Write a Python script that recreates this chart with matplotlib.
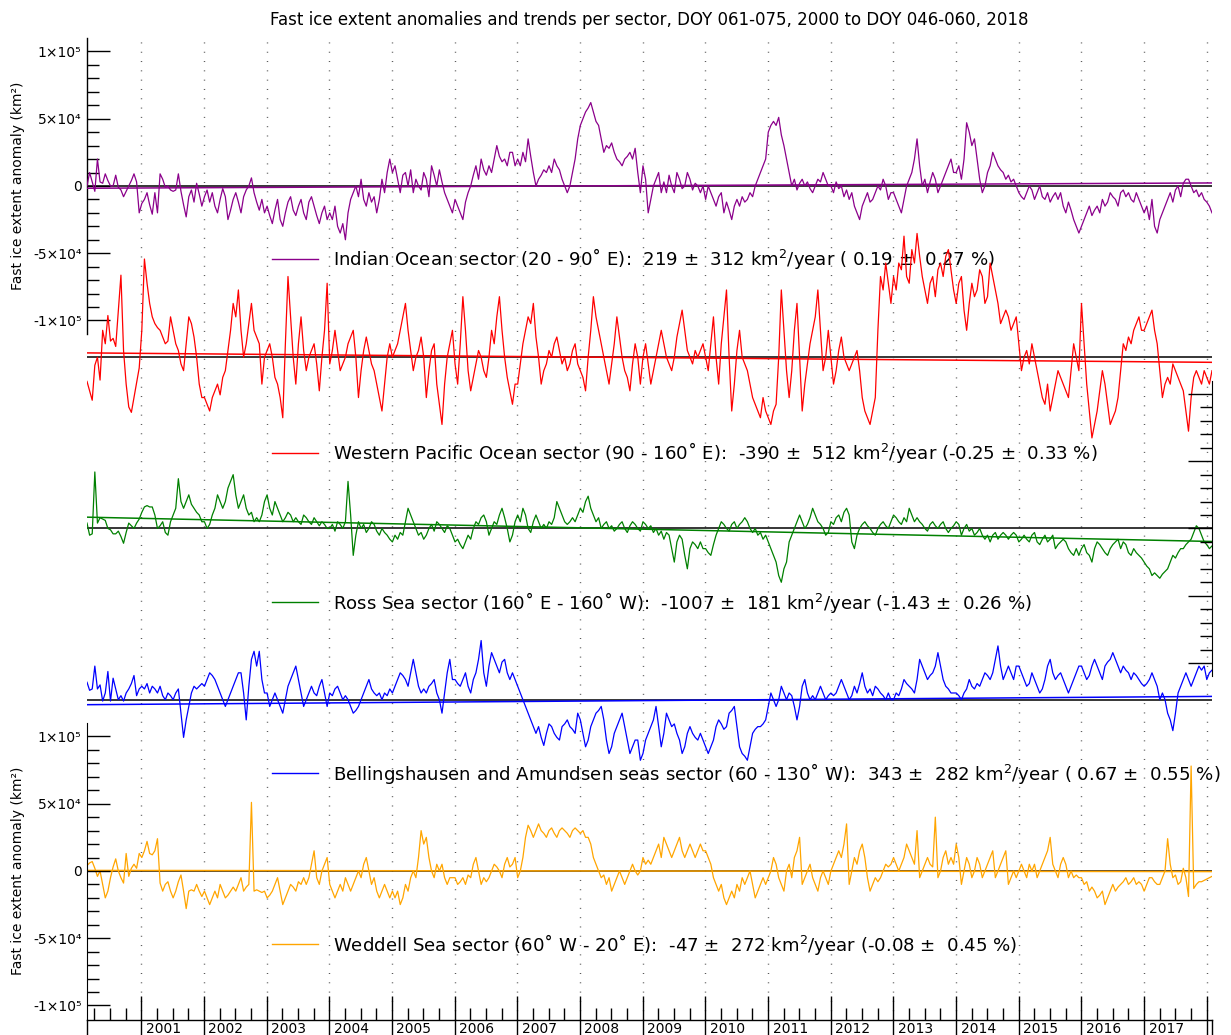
import numpy as np
import matplotlib
matplotlib.use("Agg")
import matplotlib.pyplot as plt
import matplotlib.transforms as mtransforms

# ---------------- data (anomalies in thousand km^2, 15-day periods) ----------------
# first list: 2000 (DOY 061 onwards, 21 periods), then 2001..2017 (24 each), then 2018 (3)
indian = [
    [0, 10, 3, -4, 20, 3, 2, 9, 4, 0, 0, 8, -1, -3, -8, -4, 0, 4, 9, 3, -20],
    [-13, -10, -5, -14, -21, -5, -20, 9, 5, -1, 0, -3, -4, -3, 9, -4, -14, -23, -8, -3, -12, 2, -6, -15],
    [-8, -3, -12, -5, -15, -20, -10, -2, -8, -25, -18, -10, -5, -12, -20, -8, -3, 0, 6, -5, -12, -18, -10, -20],
    [-15, -22, -28, -18, -10, -25, -30, -20, -12, -8, -18, -22, -15, -10, -20, -25, -12, -8, -15, -22, -28, -20, -15, -25],
    [-20, -25, -15, -30, -35, -28, -40, -20, -10, -5, 0, -8, 5, -10, -15, -5, -12, -8, -20, -10, 5, -5, 10, 20],
    [10, 15, 5, -5, 8, 10, 0, 12, -5, 5, 0, -3, 10, 5, -8, 15, 8, 0, 12, 3, -5, -10, -15, -20],
    [-10, -15, -20, -25, -12, -5, 0, 8, 15, 5, 20, 12, 8, 15, 10, 20, 30, 22, 18, 20, 15, 25, 25, 15],
    [20, 15, 25, 18, 35, 22, 10, 0, 5, 8, 12, 10, 15, 10, 20, 15, 12, 5, 0, -5, 0, 10, 20, 35],
    [45, 50, 55, 58, 62, 55, 48, 45, 35, 25, 30, 28, 32, 25, 20, 18, 15, 20, 22, 25, 20, 28, 10, -5],
    [15, 5, -20, -10, 0, 5, 10, -5, 3, -5, 8, 0, -5, 10, 5, -2, 0, 10, 5, -3, 2, 0, -5, 0],
    [-10, 0, -5, -10, -15, -8, -5, -20, -12, -18, -25, -15, -10, -15, -8, -12, -10, -5, -8, 0, 5, 10, 15, 20],
    [40, 45, 48, 45, 51, 38, 30, 20, 10, 0, 5, -3, 2, 5, 0, 3, -2, -5, 0, 5, 3, 10, 5, 0],
    [0, -5, 3, -2, 0, -8, -3, -10, -5, -15, -20, -25, -15, -10, -5, -12, -10, -5, 0, -3, 5, 0, -10, -5],
    [-5, -10, -15, -20, -10, 0, 5, 10, 20, 35, 15, 0, 5, -5, 3, 10, 5, -5, 0, 5, 10, 15, 20, 10],
    [10, 15, 5, 20, 47, 40, 30, 35, 20, 5, -5, 0, 10, 15, 25, 20, 15, 12, 10, 5, 8, 3, 5, 0],
    [-5, -8, -10, -5, 0, -3, -10, -5, 0, -8, -10, -5, -12, -8, -5, -10, -5, -15, -20, -12, -18, -25, -30, -35],
    [-30, -25, -20, -15, -22, -18, -15, -20, -10, -15, -12, -5, -8, -10, -15, -5, -3, -8, -5, -10, -12, -5, -10, -15],
    [-20, -15, -25, -10, -30, -35, -25, -20, -15, -10, -5, -12, -3, 0, -8, 2, 5, 5, 0, -5, -3, -8, -5, -10],
    [-12, -15, -20],
]
western_pacific = [
    [-18, -25, -32, -6, 0, -17, 20, 10, 31, 12, 14, 8, 35, 61, 5, -20, -37, -41, -30, -19, -8],
    [20, 73, 55, 40, 30, 25, 22, 20, 15, 10, 12, 30, 20, 10, 5, -5, -10, 10, 30, 25, 15, 0, -20, -30],
    [-30, -35, -40, -30, -25, -20, -28, -15, -10, 5, 20, 40, 30, 50, 20, 0, 10, 25, 40, 20, 15, 10, -20, 0],
    [5, 10, 0, -15, -20, -30, -45, 10, 60, 30, 0, -20, 10, 30, 5, -10, 0, 5, 10, -5, -25, 0, 20, 55],
    [-5, 5, 20, 5, -10, -5, 0, 10, 15, 20, 0, -30, -10, 5, 15, 5, -5, -10, -20, -30, -40, -20, 0, 10],
    [0, 5, 10, 20, 30, 40, 20, 5, -10, 0, 5, 15, 0, -30, -10, 5, 10, -20, -35, -50, -20, 0, 10, 20],
    [-5, -20, 10, 45, 20, -10, -25, -15, -5, 5, 0, -10, -15, 0, 20, 10, 30, 45, 20, 0, -15, -25, -35, -20],
    [-20, -5, 10, 20, 30, 25, 40, 15, 0, -20, -10, -5, 5, 0, 10, 15, 5, -5, 0, -10, -5, 5, 10, -5],
    [-10, -15, -25, 0, 20, 45, 30, 20, 10, 0, -10, -20, -5, 10, 30, 15, 0, -10, -15, -25, -5, 10, 0, -20],
    [0, 10, -5, -20, -10, 0, 10, 20, 10, 0, -5, -10, 0, 15, 25, 35, 20, 5, 0, -5, 5, 0, 5, 10],
    [0, -10, 10, 30, 0, -20, 10, 30, 50, 0, -40, -20, 5, 20, 0, -5, -10, -20, -30, -35, -40, -45, -30, -40],
    [-45, -50, -40, -35, 0, 50, 20, -10, -30, -10, 20, 40, 0, -40, -20, -5, 10, 20, 30, 50, 20, -10, 0, 20],
    [0, -20, -10, 5, 15, 0, -5, -10, -5, 0, 5, -10, -30, -40, -45, -50, -40, -30, 20, 60, 50, 70, 55, 40],
    [60, 50, 70, 65, 90, 60, 55, 80, 70, 92, 75, 60, 50, 40, 55, 60, 45, 65, 70, 60, 75, 80, 65, 50],
    [40, 55, 60, 35, 20, 40, 55, 45, 50, 65, 60, 40, 45, 70, 60, 50, 40, 25, 30, 35, 30, 20, 25, 30],
    [10, -10, 0, 5, -5, 10, 0, -10, -20, -30, -35, -20, -40, -30, -20, -10, -15, -20, -25, -30, -10, 10, 0, -10],
    [40, 10, -20, -40, -60, -50, -40, -25, -10, -20, -35, -50, -45, -40, -30, -10, 10, 5, 15, 10, 20, 25, 30, 20],
    [20, 25, 30, 35, 20, 10, -10, -30, -20, -15, -20, -5, -10, -15, -20, -25, -40, -55, -30, -15, -10, -15, -20, -10],
    [-15, -20, -10],
]
ross = [
    [4, -5, -4, 42, 4, 8, 7, 6, 0, -1, -4, -4, -2, -6, -11, -3, 4, 2, 0, 4, 7],
    [12, 16, 17, 16, 16, 10, 0, 2, 5, -3, -5, 5, 10, 15, 37, 20, 15, 20, 25, 18, 15, 12, 10, 5],
    [5, 0, 3, 10, 15, 25, 20, 15, 20, 30, 35, 40, 25, 15, 20, 25, 15, 10, 12, 5, 8, 5, 10, 20],
    [25, 15, 10, 20, 15, 10, 5, 8, 12, 10, 5, 8, 5, 3, 10, 8, 5, 3, 8, 5, 2, 5, 3, 0],
    [0, 3, -2, 5, 3, 0, 5, 35, 10, -20, -5, 5, 0, 3, -3, 0, 5, 3, -2, -5, 0, -3, -5, -8],
    [-10, -5, -8, -3, -5, 5, 15, 10, 5, 0, -5, -3, -8, -5, 0, 3, -2, 5, 3, 0, -3, 2, 0, -5],
    [-10, -8, -12, -15, -10, -5, -8, 0, 5, 3, 8, 10, 5, -5, 0, 5, 3, 10, 15, 8, 0, -10, -5, 5],
    [10, 5, 15, 10, 0, -3, 5, 10, 5, 0, 3, 0, 5, 3, 8, 20, 15, 10, 5, 3, 5, 8, 5, 10],
    [15, 12, 20, 24, 15, 10, 5, 8, 0, 3, 5, 0, 2, -2, 0, 3, 5, 0, -3, 2, 5, 3, 0, -2],
    [5, 3, 0, 2, -3, 0, -5, -2, -8, -3, -5, -15, -25, -10, -5, -8, -20, -30, -15, -10, -12, -15, -10, -15],
    [-15, -18, -20, -12, -5, 0, 5, 3, 0, -2, 3, 5, 0, 3, 5, 8, 5, 0, -3, 0, -5, -3, -8, -5],
    [-10, -15, -20, -25, -35, -40, -30, -25, -10, -5, 0, 5, 10, 5, 0, 3, 8, 15, 10, 5, 3, 0, -5, -3],
    [5, 3, 8, 10, 5, 12, 15, 10, -10, -15, -5, 0, 3, 5, 2, 0, -3, -5, 0, 3, 5, 2, 0, 5],
    [10, 8, 5, 3, 8, 5, 15, 10, 5, 8, 5, 3, 0, -2, 3, 5, 2, 0, 3, 5, 0, -3, 0, 2],
    [5, 3, -5, 0, 3, -2, 0, -5, -3, 0, -5, -8, -5, -10, -5, -3, -8, -5, -3, -5, -8, -5, -3, -5],
    [-10, -8, -5, -8, -10, -5, -3, -10, -12, -8, -5, -10, -8, -5, -15, -12, -10, -8, -10, -15, -18, -20, -15, -20],
    [-15, -12, -18, -20, -25, -15, -10, -12, -15, -18, -20, -15, -12, -10, -8, -15, -10, -12, -18, -20, -15, -18, -20, -22],
    [-25, -28, -30, -35, -33, -35, -37, -34, -32, -30, -25, -20, -22, -18, -15, -15, -12, -10, -8, -3, 2, 0, -5, -10],
    [-12, -15, -13],
]
bell_amundsen = [
    [13, 7, 8, 25, 8, 11, -1, 5, 21, -1, 16, 8, 0, 3, -1, 5, 8, 12, 18, 3, 8],
    [10, 8, 12, 5, 10, 8, 5, 10, 3, 0, 5, 3, 0, 5, 8, -10, -28, -15, -5, 5, 10, 8, 10, 12],
    [10, 15, 20, 18, 15, 10, 5, 0, -5, 0, 5, 10, 15, 20, 20, 5, -15, 10, 30, 36, 25, 36, 15, 5],
    [5, -5, 0, 5, 0, -5, -10, 0, 10, 15, 20, 25, 15, 5, -5, 0, 5, 10, 5, 3, 10, 15, 5, -5],
    [5, 3, 8, 10, 5, 0, 3, 0, -5, -10, -8, -5, 0, 5, 10, 15, 8, 5, 3, 5, 0, 5, 3, 8],
    [5, 10, 15, 20, 18, 15, 10, 20, 30, 20, 10, 5, 8, 5, 10, 12, 15, 5, 0, -10, 5, 20, 30, 15],
    [15, 12, 10, 15, 20, 10, 5, 15, 20, 30, 44, 20, 10, 25, 35, 30, 25, 20, 28, 30, 20, 15, 20, 15],
    [10, 5, 0, -5, -10, -15, -20, -25, -20, -28, -34, -25, -18, -20, -25, -28, -30, -20, -18, -15, -20, -22, -25, -10],
    [-15, -25, -35, -30, -20, -15, -10, -8, -5, -15, -30, -40, -35, -25, -20, -15, -10, -20, -30, -40, -35, -30, -30, -45],
    [-40, -30, -25, -20, -15, -5, -20, -35, -25, -10, -15, -20, -18, -25, -30, -40, -35, -25, -20, -25, -28, -30, -25, -30],
    [-35, -40, -35, -30, -20, -15, -18, -22, -20, -10, -8, -5, -20, -35, -40, -42, -45, -35, -25, -22, -20, -20, -18, -15],
    [-5, 5, 0, -5, 0, 10, 5, 0, 5, 3, -5, -15, -5, 10, 15, 5, 0, 3, 0, 5, 10, 5, 0, 3],
    [5, 3, 5, 10, 15, 10, 5, 0, 3, 10, 5, 12, 20, 10, 5, 8, 3, 10, 8, 5, 3, 0, 5, 0],
    [0, 5, 3, 8, 15, 12, 10, 8, 5, 15, 30, 25, 20, 15, 18, 20, 25, 35, 25, 15, 10, 8, 5, 5],
    [5, 3, 0, 5, 8, 15, 10, 8, 12, 10, 15, 20, 18, 15, 20, 30, 40, 25, 15, 20, 25, 20, 15, 25],
    [25, 20, 15, 10, 12, 20, 15, 10, 5, 8, 15, 25, 30, 20, 15, 18, 20, 15, 10, 5, 10, 15, 20, 25],
    [25, 20, 15, 18, 25, 30, 25, 20, 15, 25, 28, 30, 35, 30, 25, 20, 25, 22, 20, 15, 20, 18, 15, 12],
    [10, 12, 15, 20, 15, 10, 0, 5, 0, -10, -15, -23, -10, 5, 10, 15, 20, 15, 10, 15, 20, 25, 22, 25],
    [15, 20, 22],
]
weddell = [
    [4, 6, 7, 2, -4, 0, -10, -20, -15, -5, 3, 9, 0, -5, -9, 13, -4, 2, 5, 2, 13],
    [10, 15, 22, 13, 12, 15, 24, -9, -15, -10, -8, -15, -20, -15, -8, -3, -15, -28, -15, -14, -15, -10, -15, -19],
    [-15, -20, -25, -20, -15, -20, -10, -15, -20, -18, -15, -12, -15, -10, -5, -15, -12, -10, 51, -15, -14, -15, -16, -15],
    [-20, -18, -15, -10, -5, -15, -25, -20, -15, -10, -12, -15, -8, -10, -5, -10, -5, 5, 15, -5, -10, 0, 5, 10],
    [-10, -15, -20, -15, -10, -15, -5, -10, -15, -10, -5, 0, -5, 5, 10, 0, -10, -5, -15, -20, -15, -10, -15, -20],
    [-15, -20, -15, -25, -20, -10, -15, -5, 0, -5, 10, 30, 20, 25, 10, 0, -5, 5, 0, 5, -5, -10, -5, -5],
    [-5, -10, -8, -5, -10, -3, -5, 5, 10, 0, -10, -5, -8, -5, 0, 5, 3, 0, -5, 5, 10, 3, 5, 10],
    [-5, 0, 10, 25, 34, 30, 25, 30, 35, 30, 28, 25, 30, 32, 28, 25, 30, 32, 30, 28, 25, 30, 32, 30],
    [28, 30, 25, 25, 20, 10, 5, 0, -5, -3, -10, -5, -15, -10, -5, 0, -5, -10, -5, 0, 5, 0, -3, 0],
    [10, 5, 8, 5, 10, 15, 20, 10, 25, 20, 15, 10, 15, 20, 25, 15, 10, 15, 20, 15, 10, 15, 20, 15],
    [15, 10, 5, -5, -10, -15, -10, -20, -25, -20, -15, -20, -10, -15, -5, -10, -5, 0, -10, -20, -15, -10, -5, -10],
    [-5, 0, 10, 5, -5, -10, -15, 0, 5, -5, 10, 15, 25, -10, -5, 0, 5, -5, -10, -15, -5, 0, -5, -10],
    [0, 5, 10, 15, 10, 20, 35, -10, 0, 10, 5, 15, 20, 10, -5, -15, -10, -5, -8, -5, 0, 5, 3, 5],
    [10, 5, 0, 5, 10, 20, 15, 10, 5, 30, -5, 0, 5, 10, 5, 3, 40, -5, 0, 10, 15, 5, 10, 5],
    [20, 10, -10, 0, 10, 5, -5, 0, 10, 5, -5, 0, 5, 10, 15, -5, 0, 5, 10, 15, -10, -5, 0, -5],
    [0, 5, 0, -5, 5, 0, 5, -5, 0, 5, 10, 15, 25, 5, 0, -5, 5, 10, 5, -5, 0, -5, -3, -5],
    [-5, -10, -8, -15, -12, -15, -20, -18, -15, -25, -20, -15, -10, -15, -12, -10, -8, -5, -10, -8, -5, -10, -8, -10],
    [-15, -10, -5, -5, -8, -10, -10, -5, 0, 24, 5, -5, -3, -10, -8, 2, -5, -19, 78, -13, -10, -8, -8, -7],
    [-6, -5, -4],
]

names = ["Indian Ocean sector (20 - 90˚ E):  219 ±  312 km$^2$/year ( 0.19 ±  0.27 %)",
         "Western Pacific Ocean sector (90 - 160˚ E):  -390 ±  512 km$^2$/year (-0.25 ±  0.33 %)",
         "Ross Sea sector (160˚ E - 160˚ W):  -1007 ±  181 km$^2$/year (-1.43 ±  0.26 %)",
         "Bellingshausen and Amundsen seas sector (60 - 130˚ W):  343 ±  282 km$^2$/year ( 0.67 ±  0.55 %)",
         "Weddell Sea sector (60˚ W - 20˚ E):  -47 ±  272 km$^2$/year (-0.08 ±  0.45 %)"]
colors = ["#8b008b", "#ff0000", "#008000", "#0000ff", "#ffa500"]
trend_slope = [219, -390, -1007, 343, -47]          # km^2 / year (legend)
trend_start = [-1.7e3, 3.2e3, 8.4e3, -3.7e3, 0.4e3]  # km^2 at first period
legend_drop = [0.543e5, 0.712e5, 0.547e5, 0.545e5, 0.543e5]
year_ticks = list(range(2001, 2019))
year_labels = [str(y) for y in range(2001, 2018)]
x_first, x_last = 2000.1335, 2018.0845

all_series = [indian, western_pacific, ross, bell_amundsen, weddell]
vals = []
for s in all_series:
    v = np.concatenate([np.asarray(y, float) for y in s]) * 1e3
    assert len(v) == 432, len(v)
    vals.append(v)
t = np.linspace(x_first, x_last, 432)

D = 1.2732e5
ylo, yhi = -4 * D - 1.108e5, 1.1e5

W, H = 1231, 1035
fig = plt.figure(figsize=(W / 100, H / 100), dpi=100)
ax = fig.add_axes([87 / W, 15 / H, 1125 / W, 982 / H])
ax.set_xlim(x_first, x_last)
ax.set_ylim(ylo, yhi)

# year grid
for yr in year_ticks:
    ax.axvline(yr, color="#555555", lw=1.0, ls=(0, (0.7, 6.0)), zorder=1)

for i, (v, c) in enumerate(zip(vals, colors)):
    off = -i * D
    ax.axhline(off, color="black", lw=1.1, zorder=2)
    tr = trend_start[i] + trend_slope[i] * (t - t[0])
    ax.plot(t, tr + off, color=c, lw=1.1, zorder=3)
    ax.plot(t, v + off, color=c, lw=0.9, zorder=4)
    ly = off - legend_drop[i]
    btr = mtransforms.blended_transform_factory(ax.transAxes, ax.transData)
    ax.plot([0.1644, 0.2053], [ly, ly], color=c, lw=1.0, transform=btr)
    ax.text(0.2187, ly, names[i], transform=btr, fontsize=13.1, va="center", ha="left")

# spines / ticks main axes (top-left segment + x axis)
for sp in ["top", "right"]:
    ax.spines[sp].set_visible(False)
ax.spines["left"].set_bounds(-1.1e5, 1.1e5)
ax.spines["left"].set_linewidth(1.0)
ax.spines["bottom"].set_linewidth(1.0)

seg_major = [-1e5, -5e4, 0, 5e4, 1e5]
seg_labels = ["-1×10⁵", "-5×10⁴", "0", "5×10⁴", "1×10⁵"]
seg_minor = [k * 1e4 for k in range(-10, 11)]

ax.set_yticks(seg_major)
ax.set_yticklabels(seg_labels)
ax.set_yticks(seg_minor, minor=True)
ax.tick_params(axis="y", which="major", direction="in", length=16.5, width=1, labelsize=10, pad=4)
ax.tick_params(axis="y", which="minor", direction="in", length=8.6, width=1)

ax.set_xticks(year_ticks)
ax.set_xticklabels([""] * len(year_ticks))
ax.set_xticks([y + q / 4 for y in range(2000, 2018) for q in (1, 2, 3)], minor=True)
ax.tick_params(axis="x", which="major", direction="inout", length=34, width=1)
ax.tick_params(axis="x", which="minor", direction="in", length=8.6, width=1)

xtr = mtransforms.blended_transform_factory(ax.transData, ax.transAxes)
for yl in year_labels:
    ax.text(int(yl), 0, yl, transform=mtransforms.offset_copy(xtr, fig, x=4.5, y=-2, units="dots"),
            fontsize=10, ha="left", va="top")

# small verticals below axis at both ends
ax.plot([0, 0], [0, -0.03], transform=ax.transAxes, color="black", lw=1.0, clip_on=False)
ax.plot([1, 1], [0, -0.03], transform=ax.transAxes, color="black", lw=1.0, clip_on=False)

# bottom-left segment (Weddell)
axb = ax.twinx()
axb.set_ylim(ylo, yhi)
axb.yaxis.set_ticks_position("left")
for sp in ["top", "right", "bottom"]:
    axb.spines[sp].set_visible(False)
axb.spines["left"].set_visible(True)
axb.spines["left"].set_bounds(-4 * D - 1.108e5, -4 * D + 1.1e5)
axb.set_yticks([m - 4 * D for m in seg_major])
axb.set_yticklabels(seg_labels)
axb.set_yticks([m - 4 * D for m in seg_minor], minor=True)
axb.tick_params(axis="y", which="major", direction="in", length=16.5, width=1, labelsize=10, pad=4,
                left=True, right=False, labelleft=True, labelright=False)
axb.tick_params(axis="y", which="minor", direction="in", length=8.6, width=1, left=True, right=False)

# right segment (Ross)
axr = ax.twinx()
axr.set_ylim(ylo, yhi)
for sp in ["top", "left", "bottom"]:
    axr.spines[sp].set_visible(False)
axr.spines["right"].set_bounds(-2 * D - 1.1e5, -2 * D + 1.1e5)
axr.set_yticks([m - 2 * D for m in seg_major])
axr.set_yticklabels([""] * 5)
axr.set_yticks([m - 2 * D for m in seg_minor], minor=True)
axr.tick_params(axis="y", which="major", direction="in", length=17, width=1)
axr.tick_params(axis="y", which="minor", direction="in", length=8.6, width=1)

# title and y labels
fig.text(649.5 / W, 1 - 20 / H, "Fast ice extent anomalies and trends per sector, DOY 061-075, 2000 to DOY 046-060, 2018",
         fontsize=12.0, ha="center", va="center")
for yc in (186, 871):
    fig.text(18 / W, 1 - yc / H, "Fast ice extent anomaly (km²)", rotation=90, fontsize=10,
             ha="center", va="center")

fig.savefig("out.png", dpi=100)
